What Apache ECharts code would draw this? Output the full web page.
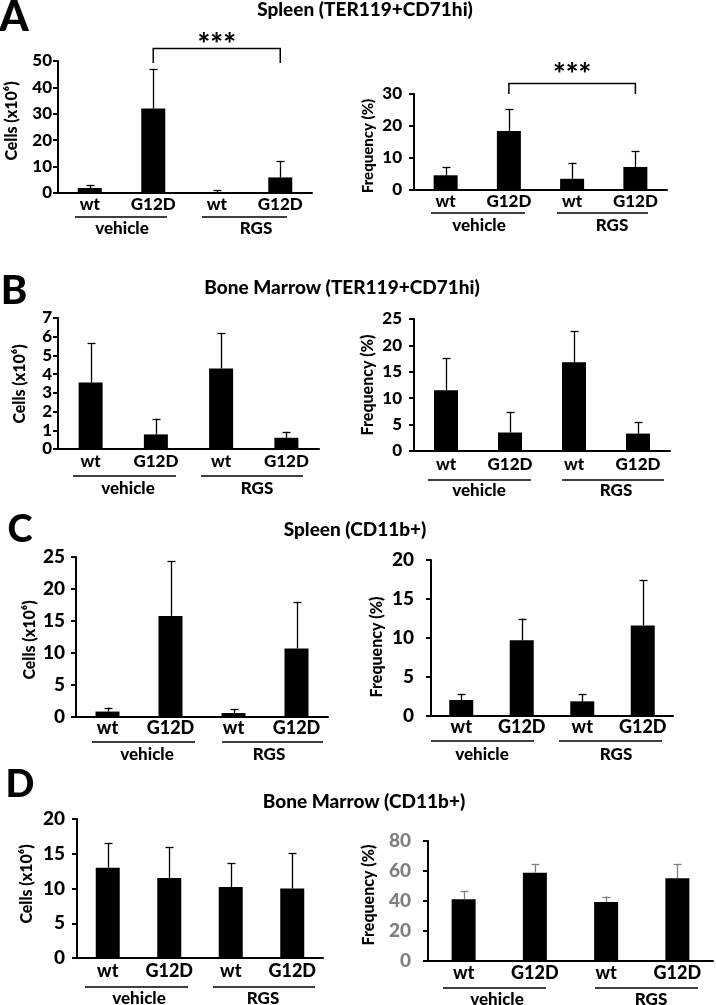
<!DOCTYPE html>
<html><head><meta charset="utf-8">
<script src="https://cdn.jsdelivr.net/npm/echarts@6/dist/echarts.min.js"></script>
<style>html,body{margin:0;padding:0;background:#fff}#c{width:716px;height:1005px}</style>
</head><body><div id="c"></div>
<script>
// ---------- data ----------
const categories = ['wt', 'G12D', 'wt', 'G12D'];
const groupLabels = ['vehicle', 'RGS'];
const panelLetters = ['A', 'B', 'C', 'D'];
const rowTitles = ['Spleen (TER119+CD71hi)', 'Bone Marrow (TER119+CD71hi)', 'Spleen (CD11b+)', 'Bone Marrow (CD11b+)'];
const cellsName = 'Cells (x10\u2076)';
const freqName = 'Frequency (%)';

const aCellsMean  = [1.9, 32.0, 0.3, 5.9];
const aCellsUpper = [2.9, 47.0, 1.0, 12.0];
const aFreqMean   = [4.6, 18.4, 3.5, 7.2];
const aFreqUpper  = [7.1, 25.2, 8.5, 12.2];
const bCellsMean  = [3.55, 0.78, 4.3, 0.6];
const bCellsUpper = [5.65, 1.62, 6.2, 0.92];
const bFreqMean   = [11.5, 3.5, 16.8, 3.3];
const bFreqUpper  = [17.6, 7.4, 22.7, 5.4];
const cCellsMean  = [0.85, 15.8, 0.62, 10.7];
const cCellsUpper = [1.45, 24.3, 1.2, 18.0];
const cFreqMean   = [2.05, 9.7, 1.88, 11.6];
const cFreqUpper  = [2.8, 12.5, 2.8, 17.4];
const dCellsMean  = [13.0, 11.5, 10.2, 10.0];
const dCellsUpper = [16.5, 15.9, 13.6, 15.1];
const dFreqMean   = [41.2, 58.9, 39.4, 55.2];
const dFreqUpper  = [46.9, 64.6, 43.0, 64.6];

// axis ranges [max, interval]
const aCellsAxis = [50, 10];
const aFreqAxis  = [30, 10];
const bCellsAxis = [7, 1];
const bFreqAxis  = [25, 5];
const cCellsAxis = [25, 5];
const cFreqAxis  = [20, 5];
const dCellsAxis = [20, 5];
const dFreqAxis  = [80, 20];

// significance brackets: [fromIndex, toIndex, topValue, baseValue]
const sigACells = [1, 3, 54.9, 49.2];
const sigAFreq  = [1, 3, 33.4, 30.0];
const sigText = '***';

// ---------- layout ----------
const FONT = 'Lato, "Open Sans", sans-serif';
const W = 900;
const panels = [
  {mean:aCellsMean, upper:aCellsUpper, axis:aCellsAxis, name:cellsName, grid:{left:58,top:61,width:254,height:132}, tickFont:17, tickMargin:6, catFont:17, catMargin:3, nameAt:[12,121], nameFont:16, lineY:217, lines:[[75,167],[202,287]], textY:229, texts:[122,256]},
  {mean:aFreqMean, upper:aFreqUpper, axis:aFreqAxis, name:freqName, grid:{left:414,top:94,width:253,height:96}, tickFont:17, tickMargin:12, catFont:17, catMargin:3, nameAt:[368,146], nameFont:15, lineY:213, lines:[[431,525],[557,648]], textY:226, texts:[479,612]},
  {mean:bCellsMean, upper:bCellsUpper, axis:bCellsAxis, name:cellsName, grid:{left:58,top:318,width:261,height:131}, tickFont:17, tickMargin:6, catFont:17, catMargin:4, nameAt:[20,384], nameFont:16, lineY:476, lines:[[73,176],[201,303]], textY:489, texts:[128,257]},
  {mean:bFreqMean, upper:bFreqUpper, axis:bFreqAxis, name:freqName, grid:{left:414,top:319,width:256,height:132}, tickFont:17, tickMargin:12, catFont:17, catMargin:5, nameAt:[368,385], nameFont:16, lineY:480, lines:[[428,531],[562,664]], textY:491, texts:[479,616]},
  {mean:cCellsMean, upper:cCellsUpper, axis:cCellsAxis, name:cellsName, grid:{left:76,top:557,width:252,height:160}, tickFont:19, tickMargin:11, catFont:18, catMargin:2, nameAt:[30,640], nameFont:16, lineY:742, lines:[[92,195],[222,323]], textY:755, texts:[147,269]},
  {mean:cFreqMean, upper:cFreqUpper, axis:cFreqAxis, name:freqName, grid:{left:431,top:560,width:242,height:156}, tickFont:19, tickMargin:17, catFont:18, catMargin:2, nameAt:[377,647], nameFont:16, lineY:741, lines:[[431,534],[559,662]], textY:755, texts:[482,616]},
  {mean:dCellsMean, upper:dCellsUpper, axis:dCellsAxis, name:cellsName, grid:{left:77,top:819,width:246,height:139}, tickFont:19, tickMargin:12, catFont:18, catMargin:4, nameAt:[27,884], nameFont:16, lineY:987, lines:[[85,188],[213,315]], textY:999, texts:[139,263]},
  {mean:dFreqMean, upper:dFreqUpper, axis:dFreqAxis, name:freqName, grid:{left:428,top:841,width:285,height:120}, tickFont:19, tickMargin:17, catFont:18, catMargin:3, nameAt:[369,895], nameFont:16, lineY:988, lines:[[443,546],[595,698]], textY:1000, texts:[497,651], tickColor:'#7f7f7f', errColor:'#7f7f7f'}
];
const groupFont = 17;
const letterPos = [[14,17,42],[14,291,40],[20,530,38],[20,785,38]];
const titlePos = [[365,10],[342,288],[355,530],[364,802]];
const brackets = [{panel:0, sig:sigACells, starGap:3}, {panel:1, sig:sigAFreq, starGap:8}];

// ---------- build ----------
const grids = [], xAxes = [], yAxes = [], series = [], graphics = [];
panels.forEach((p, k) => {
  grids.push(Object.assign({containLabel:false, outerBoundsMode:'none'}, p.grid));
  xAxes.push({
    type:'category', gridIndex:k, data:categories,
    axisLine:{show:true, lineStyle:{color:'#000', width:2}},
    axisTick:{show:false},
    axisLabel:{color:'#000', fontFamily:FONT, fontWeight:W, fontSize:p.catFont, margin:p.catMargin, interval:0},
    splitLine:{show:false}
  });
  yAxes.push({
    type:'value', gridIndex:k, min:0, max:p.axis[0], interval:p.axis[1],
    axisLine:{show:true, lineStyle:{color:'#000', width:2}},
    axisTick:{show:true, length:5, lineStyle:{color:'#000', width:2}},
    axisLabel:{color:p.tickColor || '#000', fontFamily:FONT, fontWeight:W, fontSize:p.tickFont, margin:p.tickMargin},
    splitLine:{show:false}
  });
  series.push({
    type:'bar', xAxisIndex:k, yAxisIndex:k, data:p.mean, barWidth:24,
    itemStyle:{color:'#000'}, silent:true, animation:false, z:2
  });
  const errColor = p.errColor || '#000';
  series.push({
    type:'custom', xAxisIndex:k, yAxisIndex:k, animation:false, silent:true, z:3, clip:false,
    data:p.mean.map((m, i) => [i, m, p.upper[i]]),
    renderItem:(params, api) => {
      const a = api.coord([api.value(0), api.value(1)]);
      const b = api.coord([api.value(0), api.value(2)]);
      const x = Math.round(a[0]) + 0.5;
      return {type:'group', children:[
        {type:'line', shape:{x1:x, y1:a[1], x2:x, y2:b[1]}, style:{stroke:errColor, lineWidth:1.3}},
        {type:'line', shape:{x1:x-4, y1:Math.round(b[1])+0.5, x2:x+4, y2:Math.round(b[1])+0.5}, style:{stroke:errColor, lineWidth:1.3}}
      ]};
    }
  });
  graphics.push({type:'text', x:p.nameAt[0], y:p.nameAt[1], rotation:Math.PI/2,
    style:{text:p.name, fontFamily:FONT, fontWeight:W, fontSize:p.nameFont, fill:'#000', align:'center', verticalAlign:'middle'}});
  p.lines.forEach((ln, g) => {
    graphics.push({type:'line', shape:{x1:ln[0], y1:p.lineY, x2:ln[1], y2:p.lineY}, style:{stroke:'#000', lineWidth:1.5}});
    graphics.push({type:'text', x:p.texts[g], y:p.textY,
      style:{text:groupLabels[g], fontFamily:FONT, fontWeight:W, fontSize:groupFont, fill:'#000', align:'center', verticalAlign:'middle'}});
  });
});

brackets.forEach(br => {
  const s = br.sig;
  series.push({
    type:'custom', xAxisIndex:br.panel, yAxisIndex:br.panel, animation:false, silent:true, clip:false, z:4,
    data:[s],
    renderItem:(params, api) => {
      const l = api.coord([api.value(0), api.value(2)]);
      const r = api.coord([api.value(1), api.value(2)]);
      const lb = api.coord([api.value(0), api.value(3)]);
      const y = Math.round(l[1]) + 0.5;
      return {type:'group', children:[
        {type:'polyline', shape:{points:[[l[0], lb[1]], [l[0], y], [r[0], y], [r[0], lb[1]]]}, style:{stroke:'#000', lineWidth:1.5, fill:null}},
        {type:'text', x:(l[0]+r[0])/2, y:y - br.starGap, style:{text:sigText, fontFamily:FONT, fontWeight:W, fontSize:30, fill:'#000', align:'center', verticalAlign:'middle'}}
      ]};
    }
  });
});

panelLetters.forEach((L, r) => {
  graphics.push({type:'text', x:letterPos[r][0], y:letterPos[r][1],
    style:{text:L, fontFamily:FONT, fontWeight:W, fontSize:letterPos[r][2], fill:'#000', align:'center', verticalAlign:'middle'}});
  graphics.push({type:'text', x:titlePos[r][0], y:titlePos[r][1],
    style:{text:rowTitles[r], fontFamily:FONT, fontWeight:W, fontSize:19, fill:'#000', align:'center', verticalAlign:'middle'}});
});

const chart = echarts.init(document.getElementById('c'), null, {renderer:'canvas'});
chart.setOption({
  backgroundColor:'#fff', animation:false,
  grid:grids, xAxis:xAxes, yAxis:yAxes, series:series, graphic:graphics
});
</script></body></html>
